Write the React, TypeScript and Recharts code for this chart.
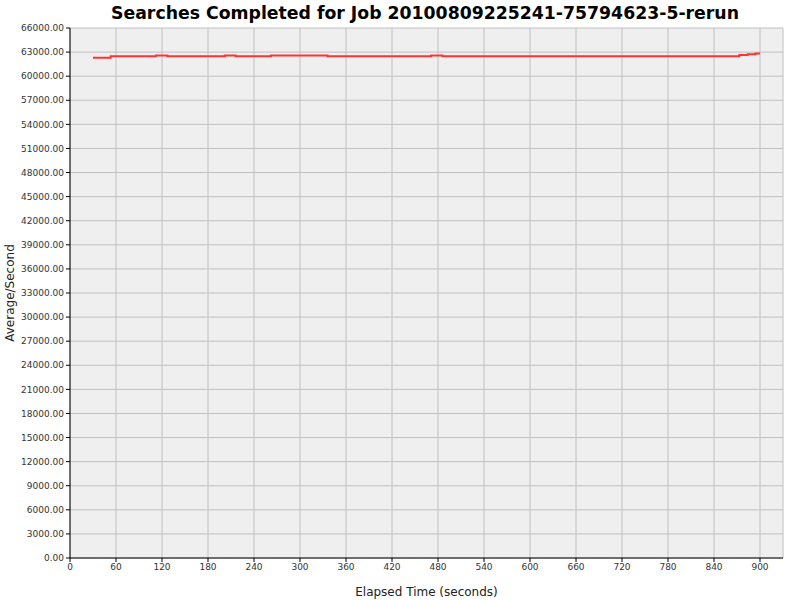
import React from "react";
import { LineChart, Line, XAxis, YAxis, CartesianGrid, Label } from "recharts";

const titleText = "Searches Completed for Job 20100809225241-75794623-5-rerun";
const xLabelText = "Elapsed Time (seconds)";
const yLabelText = "Average/Second";

const times = [30, 53, 112, 127, 202, 216, 262, 336, 471, 486, 873, 884, 894, 900];
const rates = [62300, 62470, 62590, 62470, 62590, 62470, 62590, 62470, 62590, 62470, 62640, 62720, 62840, 62840];

const xTicks = [0, 60, 120, 180, 240, 300, 360, 420, 480, 540, 600, 660, 720, 780, 840, 900];
const yTicks = [
  0, 3000, 6000, 9000, 12000, 15000, 18000, 21000, 24000, 27000, 30000, 33000, 36000,
  39000, 42000, 45000, 48000, 51000, 54000, 57000, 60000, 63000, 66000,
];

const data = times.map((t, i) => ({ t, v: rates[i] }));

const tickStyle = { fontSize: 9, fill: "#333", fontFamily: "DejaVu Sans" };

export default function App() {
  return (
    <div style={{ position: "absolute", left: 0, top: 0, width: 800, height: 600, background: "#fff" }}>
      <div
        style={{
          position: "absolute",
          left: 0,
          width: 850,
          top: 3,
          textAlign: "center",
          fontFamily: "DejaVu Sans",
          fontWeight: "bold",
          fontSize: 17.3,
          color: "#000",
          whiteSpace: "nowrap",
        }}
      >
        {titleText}
      </div>
      <LineChart
        width={800}
        height={600}
        data={data}
        margin={{ top: 28, right: 17, bottom: 12, left: 8 }}
      >
        <CartesianGrid fill="#efefef" stroke="#c0c0c0" strokeWidth={1} />
        <XAxis
          type="number"
          dataKey="t"
          domain={[0, 930]}
          ticks={xTicks}
          interval={0}
          height={30}
          tick={tickStyle}
          tickSize={4}
          stroke="#000"
          tickLine={{ stroke: "#000" }}
          axisLine={{ stroke: "#000" }}
          allowDataOverflow
        >
          <Label
            value={xLabelText}
            position="insideBottom"
            offset={-8}
            style={{ fontSize: 12, fill: "#222", fontFamily: "DejaVu Sans" }}
          />
        </XAxis>
        <YAxis
          type="number"
          domain={[0, 66000]}
          ticks={yTicks}
          interval={0}
          width={62}
          tick={tickStyle}
          tickSize={4}
          tickFormatter={(v: number) => v.toFixed(2)}
          stroke="#000"
          tickLine={{ stroke: "#000" }}
          axisLine={{ stroke: "#000" }}
          allowDataOverflow
        >
          <Label
            value={yLabelText}
            angle={-90}
            position="insideLeft"
            offset={2}
            style={{ fontSize: 12, fill: "#222", fontFamily: "DejaVu Sans", textAnchor: "middle" }}
          />
        </YAxis>
        <Line
          type="stepAfter"
          dataKey="v"
          stroke="#ff3333"
          strokeWidth={2}
          dot={false}
          isAnimationActive={false}
        />
      </LineChart>
    </div>
  );
}
